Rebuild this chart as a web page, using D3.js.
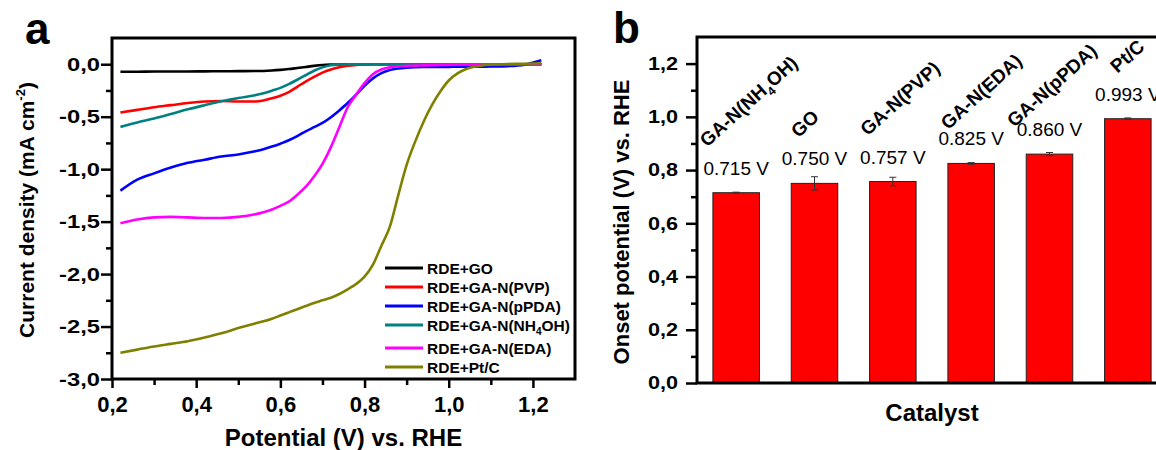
<!DOCTYPE html>
<html>
<head>
<meta charset="utf-8">
<script src="https://cdn.jsdelivr.net/npm/d3@7"></script>
<style>
  body { margin: 0; background: #fff; }
  svg { display: block; font-family: "Liberation Sans", Arial, sans-serif; }
</style>
</head>
<body>
<svg id="chart"></svg>
<script>
// ---- data, panel a (LSV curves)
const potential = [0.22, 0.26, 0.30, 0.34, 0.38, 0.42, 0.46, 0.50, 0.54,
    0.56, 0.58, 0.60, 0.62, 0.64, 0.66, 0.68, 0.70, 0.72, 0.74, 0.76, 0.78,
    0.80, 0.82, 0.84, 0.86, 0.88, 0.90, 0.92, 0.94, 0.96, 0.98, 1.00, 1.02,
    1.04, 1.06, 1.08, 1.10, 1.14, 1.18, 1.22];
const currentGO = [-0.072, -0.071, -0.070, -0.069, -0.069, -0.068, -0.067, -0.066, -0.065,
    -0.064, -0.060, -0.054, -0.046, -0.036, -0.026, -0.016, -0.008, -0.004, -0.002, -0.001, 0,
    0, 0, 0, 0, 0, 0, 0, 0, 0, 0, 0, 0,
    0, 0, 0, 0, 0, 0, 0];
const currentPVP = [-0.46, -0.435, -0.41, -0.39, -0.37, -0.355, -0.35, -0.355, -0.355,
    -0.345, -0.325, -0.30, -0.265, -0.215, -0.165, -0.12, -0.08, -0.05, -0.028, -0.014, -0.006,
    -0.002, 0, 0, 0, 0, 0, 0, 0, 0, 0, 0, 0,
    0, 0, 0, 0, 0, 0, 0];
const currentPPDA = [-1.205, -1.10, -1.04, -0.985, -0.94, -0.91, -0.88, -0.86, -0.83,
    -0.81, -0.785, -0.757, -0.725, -0.685, -0.64, -0.60, -0.56, -0.505, -0.44, -0.37, -0.29,
    -0.205, -0.135, -0.085, -0.055, -0.04, -0.032, -0.028, -0.026, -0.025, -0.025, -0.025, -0.024,
    -0.024, -0.024, -0.023, -0.022, -0.018, -0.004, 0.038];
const currentNH4OH = [-0.597, -0.555, -0.518, -0.475, -0.43, -0.39, -0.352, -0.322, -0.295,
    -0.277, -0.252, -0.225, -0.19, -0.148, -0.105, -0.062, -0.03, -0.01, -0.003, 0, 0,
    0, 0, 0, 0, 0, 0, 0, 0, 0, 0, 0, 0,
    0, 0, 0, 0, 0, 0, 0];
const currentEDA = [-1.515, -1.48, -1.46, -1.455, -1.46, -1.465, -1.465, -1.455, -1.43,
    -1.41, -1.385, -1.35, -1.31, -1.245, -1.17, -1.07, -0.95, -0.79, -0.60, -0.41, -0.29,
    -0.18, -0.095, -0.05, -0.03, -0.02, -0.016, -0.013, -0.011, -0.009, -0.007, -0.006, -0.004,
    -0.003, -0.002, -0.001, 0, 0, 0, 0];
const currentPtC = [-2.75, -2.72, -2.69, -2.665, -2.64, -2.605, -2.565, -2.515, -2.47,
    -2.45, -2.425, -2.395, -2.365, -2.335, -2.305, -2.275, -2.25, -2.225, -2.19, -2.145, -2.095,
    -2.025, -1.91, -1.73, -1.55, -1.25, -0.96, -0.74, -0.55, -0.39, -0.26, -0.155, -0.09,
    -0.048, -0.025, -0.012, -0.005, 0.001, 0.005, 0.01];

const seriesNames = ["RDE+GO", "RDE+GA-N(PVP)", "RDE+GA-N(pPDA)", "RDE+GA-N(NH4OH)", "RDE+GA-N(EDA)", "RDE+Pt/C"];
const seriesValues = [currentGO, currentPVP, currentPPDA, currentNH4OH, currentEDA, currentPtC];
const seriesColors = ["#000000", "#ff0000", "#0000ff", "#008080", "#ff00ff", "#808000"];

const xTicksA = [0.2, 0.4, 0.6, 0.8, 1.0, 1.2];
const xMinorA = [0.3, 0.5, 0.7, 0.9, 1.1];
const yTicksA = [0, -0.5, -1.0, -1.5, -2.0, -2.5, -3.0];
const yMinorA = [-0.25, -0.75, -1.25, -1.75, -2.25, -2.75];

// ---- data, panel b (onset potentials)
const catalysts = ["GA-N(NH4OH)", "GO", "GA-N(PVP)", "GA-N(EDA)", "GA-N(pPDA)", "Pt/C"];
const onset = [0.715, 0.750, 0.757, 0.825, 0.860, 0.993];
const onsetErr = [0.002, 0.025, 0.016, 0.003, 0.006, 0.003];
const onsetLabels = ["0.715 V", "0.750 V", "0.757 V", "0.825 V", "0.860 V", "0.993 V"];
const yTicksB = [0, 0.2, 0.4, 0.6, 0.8, 1.0, 1.2];
const yMinorB = [0.1, 0.3, 0.5, 0.7, 0.9, 1.1];

// small nudges for the slanted catalyst names (px)
const nameShift = [[-6, 0], [7, 0], [-2, 0], [0, 12], [-12, 19], [13, 0]];

const fmt = d3.formatLocale({decimal: ",", thousands: ".", grouping: [3], currency: ["", ""], minus: "-"}).format(".1f");

const svg = d3.select("#chart").attr("width", 1156).attr("height", 450);

function styleAxis(g, w) {
    g.attr("font-family", null).attr("font-size", null);
    g.select(".domain").remove();
    g.selectAll(".tick line").attr("stroke", "#000").attr("stroke-width", w);
}

function chemText(sel, s, fs) {
    const i = s.indexOf("NH4");
    if (i < 0) { sel.text(s); return; }
    sel.append("tspan").text(s.slice(0, i + 2));
    sel.append("tspan").text("4").attr("font-size", fs * 0.65).attr("dy", fs * 0.28);
    sel.append("tspan").text(s.slice(i + 3)).attr("dy", -fs * 0.28);
}

// ================= panel a
const xA = d3.scaleLinear().domain([0.2, 1.3]).range([112, 575]);
const yA = d3.scaleLinear().domain([-3, 0.25]).range([379, 38]);
const panelA = svg.append("g");

panelA.append("g").attr("transform", `translate(0,${yA(-3)})`)
    .call(d3.axisBottom(xA).tickValues(xMinorA).tickSize(6).tickFormat(""))
    .call(styleAxis, 2.5);
panelA.append("g").attr("transform", `translate(0,${yA(-3)})`)
    .call(d3.axisBottom(xA).tickValues(xTicksA).tickSize(9).tickPadding(8).tickFormat(fmt))
    .call(styleAxis, 2.5)
    .selectAll("text").attr("font-size", 22).attr("font-weight", "bold").attr("fill", "#000");

panelA.append("g").attr("transform", `translate(${xA(0.2)},0)`)
    .call(d3.axisLeft(yA).tickValues(yMinorA).tickSize(6).tickFormat(""))
    .call(styleAxis, 2.5);
panelA.append("g").attr("transform", `translate(${xA(0.2)},0)`)
    .call(d3.axisLeft(yA).tickValues(yTicksA).tickSize(11).tickFormat(fmt))
    .call(styleAxis, 2.5)
    .selectAll("text")
    .attr("x", 0)
    .attr("transform", "translate(-12,0) scale(1.25,1)")
    .attr("font-size", 19).attr("font-weight", "bold").attr("fill", "#000");

const line = d3.line()
    .x((d, i) => xA(potential[i]))
    .y(d => yA(d))
    .curve(d3.curveMonotoneX);

panelA.selectAll(".curve").data(seriesValues).enter().append("path")
    .attr("class", "curve")
    .attr("d", d => line(d))
    .attr("fill", "none")
    .attr("stroke", (d, i) => seriesColors[i])
    .attr("stroke-width", 2.6);

panelA.append("rect")
    .attr("x", xA(0.2)).attr("y", yA(0.25))
    .attr("width", xA(1.3) - xA(0.2)).attr("height", yA(-3) - yA(0.25))
    .attr("fill", "none").attr("stroke", "#000").attr("stroke-width", 3);

// legend
const legend = panelA.append("g").attr("transform", "translate(385,268)");
seriesNames.forEach((name, i) => {
    const y = i * 19 + (i >= 4 ? 4 : 0);
    legend.append("line").attr("x1", 0).attr("x2", 38).attr("y1", y).attr("y2", y)
        .attr("stroke", seriesColors[i]).attr("stroke-width", 3);
    legend.append("text").attr("x", 42).attr("y", y + 5.5)
        .attr("font-size", 15.5).attr("font-weight", "bold")
        .call(chemText, name, 15.5);
});

panelA.append("text").attr("x", 343.5).attr("y", 446)
    .attr("text-anchor", "middle").attr("font-size", 24).attr("font-weight", "bold")
    .text("Potential (V) vs. RHE");

const titleA = panelA.append("text")
    .attr("transform", "translate(34,210) rotate(-90)")
    .attr("text-anchor", "middle").attr("font-size", 21).attr("font-weight", "bold");
titleA.append("tspan").text("Current density (mA cm");
titleA.append("tspan").text("-2").attr("font-size", 13).attr("dy", -9);
titleA.append("tspan").text(")").attr("dy", 9);

svg.append("text").attr("x", 25).attr("y", 44)
    .attr("font-size", 44).attr("font-weight", "bold").text("a");

// ================= panel b
const xB = d3.scaleBand().domain(catalysts).range([697, 1167]).paddingInner(0.406).paddingOuter(0.203);
const yB = d3.scaleLinear().domain([0, 1.3]).range([383, 37]);
const panelB = svg.append("g");

panelB.append("g").attr("transform", `translate(${xB.range()[0]},0)`)
    .call(d3.axisLeft(yB).tickValues(yMinorB).tickSize(6).tickFormat(""))
    .call(styleAxis, 2.5);
panelB.append("g").attr("transform", `translate(${xB.range()[0]},0)`)
    .call(d3.axisLeft(yB).tickValues(yTicksB).tickSize(11).tickFormat(fmt))
    .call(styleAxis, 2.5)
    .selectAll("text")
    .attr("x", 0)
    .attr("transform", "translate(-19,0) scale(1.2,1)")
    .attr("font-size", 18).attr("font-weight", "bold").attr("fill", "#000");

panelB.selectAll(".bar").data(onset).enter().append("rect")
    .attr("class", "bar")
    .attr("x", (d, i) => xB(catalysts[i]))
    .attr("y", d => yB(d))
    .attr("width", xB.bandwidth())
    .attr("height", d => yB(0) - yB(d))
    .attr("fill", "#ff0000")
    .attr("stroke", "#222").attr("stroke-width", 1);

const err = panelB.selectAll(".err").data(onset).enter().append("g")
    .attr("class", "err")
    .attr("transform", (d, i) => `translate(${xB(catalysts[i]) + xB.bandwidth() / 2},0)`)
    .attr("stroke", "#333").attr("stroke-width", 1);
err.append("line").attr("y1", (d, i) => yB(d - onsetErr[i])).attr("y2", (d, i) => yB(d + onsetErr[i]));
err.append("line").attr("x1", -3.5).attr("x2", 3.5)
    .attr("y1", (d, i) => yB(d + onsetErr[i])).attr("y2", (d, i) => yB(d + onsetErr[i]));
err.append("line").attr("x1", -3.5).attr("x2", 3.5)
    .attr("y1", (d, i) => yB(d - onsetErr[i])).attr("y2", (d, i) => yB(d - onsetErr[i]));

panelB.selectAll(".val").data(onset).enter().append("text")
    .attr("class", "val")
    .attr("x", (d, i) => xB(catalysts[i]) + xB.bandwidth() / 2)
    .attr("y", d => yB(d) - 18)
    .attr("text-anchor", "middle").attr("font-size", 19)
    .text((d, i) => onsetLabels[i]);

catalysts.forEach((c, i) => {
    const t = panelB.append("text")
        .attr("transform", `translate(${xB(c) + nameShift[i][0]},${yB(onset[i]) - 45 + nameShift[i][1]}) rotate(-42)`)
        .attr("font-size", 19).attr("font-weight", "bold");
    chemText(t, c, 19);
});

panelB.append("rect")
    .attr("x", xB.range()[0]).attr("y", yB(1.3))
    .attr("width", xB.range()[1] - xB.range()[0]).attr("height", yB(0) - yB(1.3))
    .attr("fill", "none").attr("stroke", "#000").attr("stroke-width", 3);

panelB.append("text").attr("x", (xB.range()[0] + xB.range()[1]) / 2).attr("y", 421)
    .attr("text-anchor", "middle").attr("font-size", 24).attr("font-weight", "bold")
    .text("Catalyst");

panelB.append("text")
    .attr("transform", "translate(629,222) rotate(-90)")
    .attr("text-anchor", "middle").attr("font-size", 22).attr("font-weight", "bold")
    .text("Onset potential (V) vs. RHE");

svg.append("text").attr("x", 613).attr("y", 43)
    .attr("font-size", 44).attr("font-weight", "bold").text("b");
</script>
</body>
</html>
